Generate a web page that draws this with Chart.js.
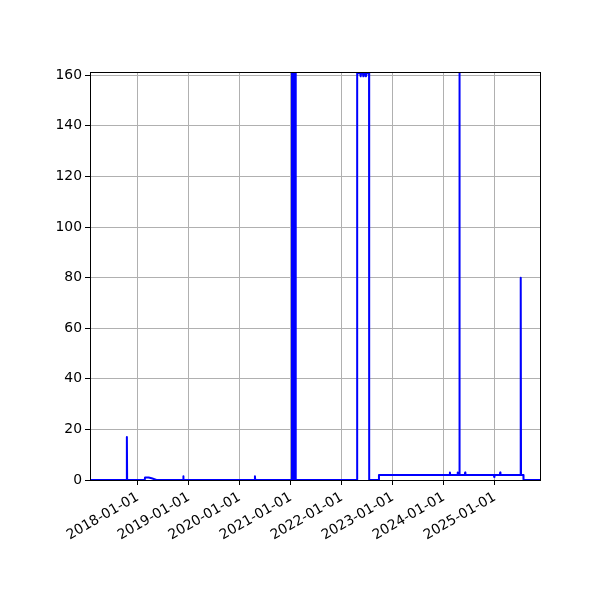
<!DOCTYPE html>
<html>
<head>
<meta charset="utf-8">
<script src="https://cdn.jsdelivr.net/npm/chart.js@4/dist/chart.umd.min.js"></script>
<style>
html,body{margin:0;padding:0;background:#fff;}
#wrap{width:600px;height:600px;}
</style>
</head>
<body>
<div id="wrap"><canvas id="c" width="600" height="600"></canvas></div>
<script>
// ---- data ----
const dates = [
  "2017-01-24","2017-10-14","2017-10-15","2017-10-17",
  "2018-02-20","2018-02-22","2018-03-20","2018-04-10","2018-05-15",
  "2018-11-21","2018-11-23","2018-11-25",
  "2020-04-17","2020-04-19","2020-04-21",
  "2021-01-08","2021-01-09","2021-01-15","2021-01-21","2021-01-27","2021-02-02","2021-02-05",
  "2022-04-20","2022-04-21","2022-05-13","2022-05-16","2022-05-19","2022-06-01","2022-06-04","2022-06-07",
  "2022-06-20","2022-06-23","2022-06-26","2022-07-15","2022-07-16",
  "2022-09-23","2022-09-24",
  "2024-02-12","2024-02-14","2024-02-16",
  "2024-04-08","2024-04-10","2024-04-12","2024-04-20","2024-04-22","2024-04-24",
  "2024-05-31","2024-06-02","2024-06-04",
  "2024-12-25","2024-12-27","2024-12-29",
  "2025-02-06","2025-02-08","2025-02-10",
  "2025-07-03","2025-07-05","2025-07-07",
  "2025-07-24","2025-07-25","2025-11-20"
];
const values = [
  0,0,17,0,
  0,1,1,0.7,0,
  0,1.5,0,
  0,1.5,0,
  0,300,0,300,0,300,0,
  0,160.8,160.8,159.6,160.8,160.8,159.6,160.8,
  160.8,159.6,160.8,160.8,0,
  0,2,
  2,3,2,
  2,3,2,2,200,2,
  2,3,2,
  2,1.2,2,
  2,3,2,
  2,80,2,
  2,0,0
];
const xTickLabels = ["2018-01-01","2019-01-01","2020-01-01","2021-01-01","2022-01-01","2023-01-01","2024-01-01","2025-01-01"];
const yTicks = [0,20,40,60,80,100,120,140,160];
const xRange = ["2017-01-24","2025-11-20"];
const yRange = [0,161.3];

// ---- build ----
const ms = s => Date.parse(s + "T00:00:00Z");
const points = dates.map((d,i)=>({x: ms(d), y: values[i]}));
const xTickVals = xTickLabels.map(ms);

const frame = {
  id: 'frame',
  afterDatasetsDraw(chart){
    const {ctx, chartArea:a} = chart;
    ctx.save();
    ctx.strokeStyle = '#000';
    ctx.lineWidth = 1;
    ctx.strokeRect(Math.round(a.left)+0.5, Math.round(a.top)+0.5, Math.round(a.right-a.left), Math.round(a.bottom-a.top));
    ctx.restore();
  }
};

const font = {family: "'DejaVu Sans', sans-serif", size: 13.9};

new Chart(document.getElementById('c'), {
  type: 'line',
  data: { datasets: [{
    data: points,
    borderColor: '#0000ff',
    borderWidth: 2,
    borderJoinStyle: 'round',
    pointRadius: 0,
    tension: 0,
    fill: false
  }]},
  options: {
    responsive: false,
    animation: false,
    layout: { padding: { top: 72, right: 60, left: 0, bottom: 0 } },
    plugins: { legend: {display:false}, tooltip: {enabled:false} },
    scales: {
      x: {
        type: 'linear',
        min: ms(xRange[0]), max: ms(xRange[1]),
        afterBuildTicks(s){ s.ticks = xTickVals.map(v=>({value:v})); },
        afterFit(s){ s.height = 120; },
        ticks: {
          autoSkip: false,
          minRotation: 30, maxRotation: 30,
          color: '#000', font,
          padding: 4,
          callback(v){ const i = xTickVals.indexOf(v); return i>=0 ? xTickLabels[i] : ''; }
        },
        grid: { color: '#b0b0b0', lineWidth: 1, tickColor: '#000', tickLength: 5, drawTicks: true },
        border: { display: false }
      },
      y: {
        type: 'linear',
        min: yRange[0], max: yRange[1],
        afterBuildTicks(s){ s.ticks = yTicks.map(v=>({value:v})); },
        afterFit(s){ s.width = 90; },
        ticks: { color: '#000', font, padding: 3, callback(v){ return String(v); } },
        grid: { color: '#b0b0b0', lineWidth: 1, tickColor: '#000', tickLength: 5, drawTicks: true },
        border: { display: false }
      }
    }
  },
  plugins: [frame]
});
</script>
</body>
</html>
